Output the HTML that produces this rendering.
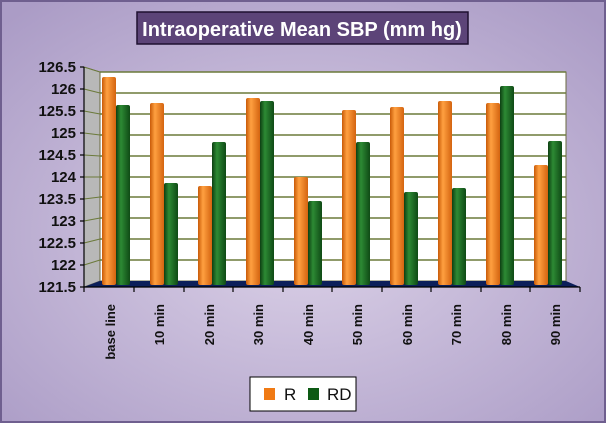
<!DOCTYPE html>
<html><head><meta charset="utf-8"><style>
body{margin:0;width:606px;height:423px;overflow:hidden;}
</style></head><body>
<svg width="606" height="423" xmlns="http://www.w3.org/2000/svg" font-family="Liberation Sans, sans-serif">
<defs>
<radialGradient id="bg" cx="0.5" cy="0.55" r="0.7">
<stop offset="0" stop-color="#dcd2e8"/><stop offset="1" stop-color="#ab9cc6"/></radialGradient>
<linearGradient id="og" x1="0" x2="1"><stop offset="0" stop-color="#c85a08"/><stop offset="0.35" stop-color="#ffa040"/><stop offset="1" stop-color="#d46410"/></linearGradient>
<linearGradient id="gg" x1="0" x2="1"><stop offset="0" stop-color="#0d3f12"/><stop offset="0.35" stop-color="#2d8a34"/><stop offset="1" stop-color="#0f4a15"/></linearGradient>
</defs>
<rect x="0" y="0" width="606" height="423" fill="url(#bg)"/>
<rect x="1" y="1" width="604" height="421" fill="none" stroke="#6f5f8f" stroke-width="2"/>
<rect x="137" y="12" width="331" height="32" fill="#5c4478" stroke="#1e1030" stroke-width="1.5"/>
<text x="302" y="36" text-anchor="middle" fill="#fff" font-size="20" font-weight="bold">Intraoperative Mean SBP (mm hg)</text>
<polygon points="84,67 100,72 100,281 84,287" fill="#b8b8b8" stroke="#555" stroke-width="0.8"/>
<rect x="100" y="72" width="466" height="209" fill="#fff" stroke="#6a6a40" stroke-width="1"/>
<g stroke="#6b7a3a" stroke-width="1.5">
<line x1="100" y1="72" x2="566" y2="72"/><line x1="100" y1="93" x2="566" y2="93"/><line x1="100" y1="114" x2="566" y2="114"/><line x1="100" y1="135" x2="566" y2="135"/><line x1="100" y1="156" x2="566" y2="156"/><line x1="100" y1="177" x2="566" y2="177"/><line x1="100" y1="197" x2="566" y2="197"/><line x1="100" y1="218" x2="566" y2="218"/><line x1="100" y1="239" x2="566" y2="239"/><line x1="100" y1="260" x2="566" y2="260"/>
</g>
<g stroke="#6b7a3a" stroke-width="1">
<line x1="84" y1="67" x2="100" y2="72"/><line x1="84" y1="89" x2="100" y2="93"/><line x1="84" y1="111" x2="100" y2="114"/><line x1="84" y1="133" x2="100" y2="135"/><line x1="84" y1="155" x2="100" y2="156"/><line x1="84" y1="177" x2="100" y2="177"/><line x1="84" y1="199" x2="100" y2="197"/><line x1="84" y1="221" x2="100" y2="218"/><line x1="84" y1="243" x2="100" y2="239"/><line x1="84" y1="265" x2="100" y2="260"/>
</g>
<polygon points="100,281 566,281 580,287 84,287" fill="#0c1f5a"/>
<g>
<rect x="102" y="77" width="14" height="208" rx="2" fill="url(#og)"/><rect x="116" y="105" width="14" height="180" rx="2" fill="url(#gg)"/>
<rect x="150" y="103" width="14" height="182" rx="2" fill="url(#og)"/><rect x="164" y="183" width="14" height="102" rx="2" fill="url(#gg)"/>
<rect x="198" y="186" width="14" height="99" rx="2" fill="url(#og)"/><rect x="212" y="142" width="14" height="143" rx="2" fill="url(#gg)"/>
<rect x="246" y="98" width="14" height="187" rx="2" fill="url(#og)"/><rect x="260" y="101" width="14" height="184" rx="2" fill="url(#gg)"/>
<rect x="294" y="177" width="14" height="108" rx="2" fill="url(#og)"/><rect x="308" y="201" width="14" height="84" rx="2" fill="url(#gg)"/>
<rect x="342" y="110" width="14" height="175" rx="2" fill="url(#og)"/><rect x="356" y="142" width="14" height="143" rx="2" fill="url(#gg)"/>
<rect x="390" y="107" width="14" height="178" rx="2" fill="url(#og)"/><rect x="404" y="192" width="14" height="93" rx="2" fill="url(#gg)"/>
<rect x="438" y="101" width="14" height="184" rx="2" fill="url(#og)"/><rect x="452" y="188" width="14" height="97" rx="2" fill="url(#gg)"/>
<rect x="486" y="103" width="14" height="182" rx="2" fill="url(#og)"/><rect x="500" y="86" width="14" height="199" rx="2" fill="url(#gg)"/>
<rect x="534" y="165" width="14" height="120" rx="2" fill="url(#og)"/><rect x="548" y="141" width="14" height="144" rx="2" fill="url(#gg)"/>
</g>
<g stroke="#000" stroke-width="1.2">
<line x1="84" y1="67" x2="84" y2="287"/><line x1="84" y1="287" x2="580" y2="287"/>
<line x1="80" y1="67" x2="84" y2="67"/><line x1="80" y1="89" x2="84" y2="89"/><line x1="80" y1="111" x2="84" y2="111"/><line x1="80" y1="133" x2="84" y2="133"/><line x1="80" y1="155" x2="84" y2="155"/><line x1="80" y1="177" x2="84" y2="177"/><line x1="80" y1="199" x2="84" y2="199"/><line x1="80" y1="221" x2="84" y2="221"/><line x1="80" y1="243" x2="84" y2="243"/><line x1="80" y1="265" x2="84" y2="265"/><line x1="80" y1="287" x2="84" y2="287"/>
<line x1="84" y1="287" x2="84" y2="292"/><line x1="134" y1="287" x2="134" y2="292"/><line x1="184" y1="287" x2="184" y2="292"/><line x1="233" y1="287" x2="233" y2="292"/><line x1="283" y1="287" x2="283" y2="292"/><line x1="332" y1="287" x2="332" y2="292"/><line x1="382" y1="287" x2="382" y2="292"/><line x1="431" y1="287" x2="431" y2="292"/><line x1="481" y1="287" x2="481" y2="292"/><line x1="530" y1="287" x2="530" y2="292"/><line x1="580" y1="287" x2="580" y2="292"/>
</g>
<g font-size="15" font-weight="bold" fill="#111" text-anchor="end">
<text x="76" y="72">126.5</text><text x="76" y="94">126</text><text x="76" y="116">125.5</text><text x="76" y="138">125</text><text x="76" y="160">124.5</text><text x="76" y="182">124</text><text x="76" y="204">123.5</text><text x="76" y="226">123</text><text x="76" y="248">122.5</text><text x="76" y="270">122</text><text x="76" y="292">121.5</text>
</g>
<g font-size="13" font-weight="bold" fill="#111" text-anchor="end">
<text transform="translate(115,304) rotate(-90)">base line</text>
<text transform="translate(164,304) rotate(-90)">10 min</text>
<text transform="translate(214,304) rotate(-90)">20 min</text>
<text transform="translate(263,304) rotate(-90)">30 min</text>
<text transform="translate(313,304) rotate(-90)">40 min</text>
<text transform="translate(362,304) rotate(-90)">50 min</text>
<text transform="translate(412,304) rotate(-90)">60 min</text>
<text transform="translate(461,304) rotate(-90)">70 min</text>
<text transform="translate(511,304) rotate(-90)">80 min</text>
<text transform="translate(560,304) rotate(-90)">90 min</text>
</g>
<rect x="250" y="377" width="106" height="34" fill="#fff" stroke="#000" stroke-width="1"/>
<rect x="264" y="388" width="11" height="12" fill="#f07a14"/>
<text x="284" y="400" font-size="17" fill="#111">R</text>
<rect x="308" y="388" width="11" height="12" fill="#0d5a14"/>
<text x="327" y="400" font-size="17" fill="#111">RD</text>
</svg>
</body></html>
